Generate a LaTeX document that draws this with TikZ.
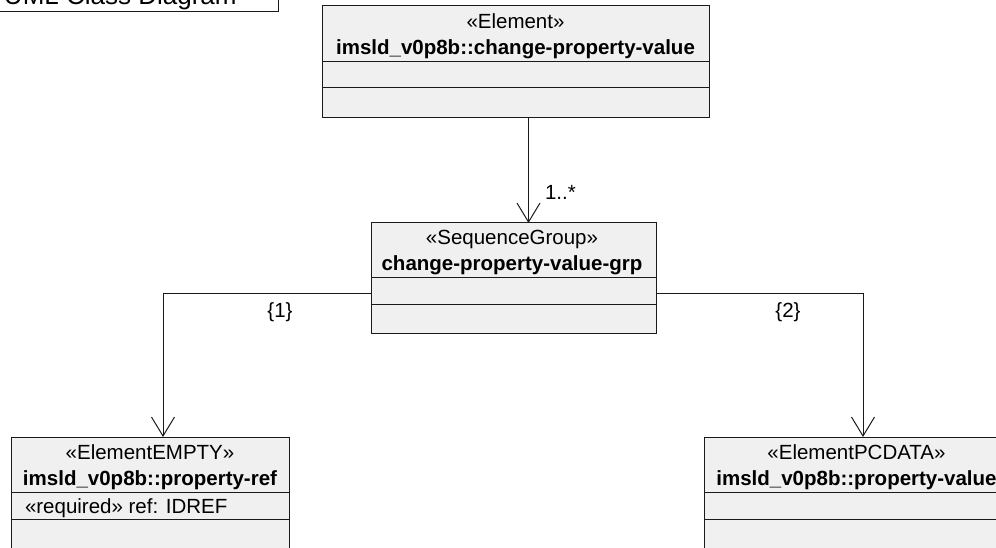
\documentclass[tikz,border=0pt]{standalone}
\usepackage{fontspec}
\setmainfont{Liberation Sans}
\usetikzlibrary{arrows.meta,calc}
\definecolor{boxfill}{HTML}{F0F0F0}
\definecolor{ink}{HTML}{1A1A1A}
\tikzset{
  classbox/.style={draw=ink, fill=boxfill, line width=1pt, inner sep=0pt, outer sep=0pt, rectangle},
  sepline/.style={draw=ink, line width=1pt},
  txt/.style={anchor=base, inner sep=0pt, outer sep=0pt, text=black, font=\fontsize{20.5}{24}\selectfont},
  boldtxt/.style={txt, font=\fontsize{20.5}{24}\selectfont\bfseries},
  assoc/.style={draw=ink, line width=1pt, -{Straight Barb[length=19pt,width=23pt,line width=1pt]}},
}
\begin{document}
\begin{tikzpicture}[x=1pt,y=-1pt]
\useasboundingbox (0,0) rectangle (996,548);
\clip (0,0) rectangle (996,548);
\fill[white] (0,0) rectangle (996,548);

% title frame
\node[draw=ink, fill=white, line width=1pt, inner sep=0pt, minimum width=300pt, minimum height=60pt, anchor=south east] (title) at (279,12) {};
\node[txt, anchor=base west, font=\fontsize{26}{30}\selectfont] (titletxt) at (4,5) {UML Class Diagram};

% top class
\node[classbox, minimum width=387pt, minimum height=112pt, anchor=north west] (cpv) at (322,6) {};
\node[txt] (cpvst) at (515.5,29) {«Element»};
\node[boldtxt] (cpvname) at (515.5,55) {imsld\_v0p8b::change-property-value};
\draw[sepline] (cpv.west |- 0,62) -- (cpv.east |- 0,62);
\draw[sepline] (cpv.west |- 0,88) -- (cpv.east |- 0,88);

% middle class
\node[classbox, minimum width=285pt, minimum height=110pt, anchor=north west] (grp) at (371,223) {};
\node[txt] (grpst) at (512,244) {«SequenceGroup»};
\node[boldtxt] (grpname) at (512,270) {change-property-value-grp};
\draw[sepline] (grp.west |- 0,277) -- (grp.east |- 0,277);
\draw[sepline] (grp.west |- 0,304) -- (grp.east |- 0,304);

% bottom left class
\node[classbox, minimum width=278pt, minimum height=130pt, anchor=north west] (pref) at (11,437) {};
\node[txt] (prefst) at (150,459) {«ElementEMPTY»};
\node[boldtxt] (prefname) at (150,485) {imsld\_v0p8b::property-ref};
\draw[sepline] (pref.west |- 0,492) -- (pref.east |- 0,492);
\node[txt, anchor=base west] (prefattr) at (25,513) {«required» ref: IDREF};
\draw[sepline] (pref.west |- 0,519) -- (pref.east |- 0,519);

% bottom right class
\node[classbox, minimum width=305pt, minimum height=130pt, anchor=north west] (pval) at (704,437) {};
\node[txt] (pvalst) at (856.5,459) {«ElementPCDATA»};
\node[boldtxt] (pvalname) at (856.5,485) {imsld\_v0p8b::property-value};
\draw[sepline] (pval.west |- 0,492) -- (pval.east |- 0,492);
\draw[sepline] (pval.west |- 0,519) -- (pval.east |- 0,519);

% connectors
\coordinate (xa) at (528.5,0);
\coordinate (xl) at (163,0);
\coordinate (xr) at (863,0);
\coordinate (yh) at (0,293);
\draw[assoc] (cpv.south -| xa) -- (grp.north -| xa);
\draw[assoc] (grp.west |- yh) -| (pref.north -| xl);
\draw[assoc] (grp.east |- yh) -| (pval.north -| xr);

% labels
\node[txt, anchor=base west] (mult) at (545,200) {1..*};
\node[txt] (ord1) at (280,317) {\{1\}};
\node[txt] (ord2) at (788,317) {\{2\}};
\end{tikzpicture}
\end{document}
